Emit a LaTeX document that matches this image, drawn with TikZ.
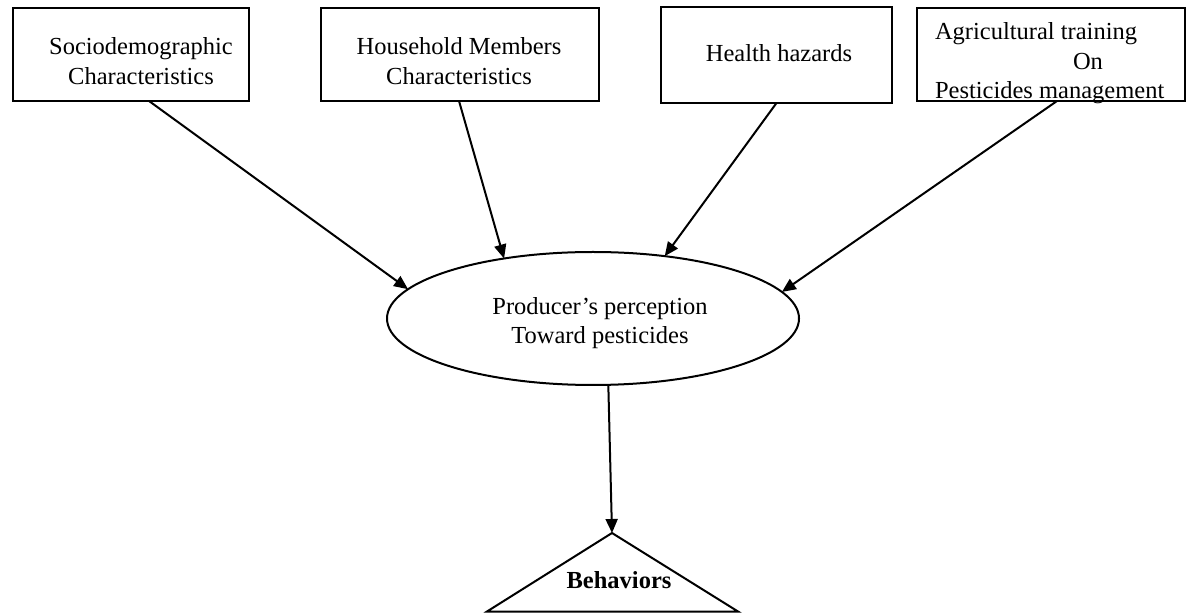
\documentclass[tikz,border=0pt]{standalone}
\usepackage{fontspec}
\setmainfont{Liberation Serif}
\usetikzlibrary{arrows.meta,shapes.geometric}
\begin{document}
\begin{tikzpicture}[x=0.5pt,y=-0.5pt,
  box/.style={draw,line width=1pt,inner sep=0pt,outer sep=0pt},
  txt/.style={font=\fontsize{12.25}{14.875}\selectfont,inner sep=0pt,outer sep=0pt},
  arr/.style={line width=1pt,-{Triangle[length=7pt,width=6pt]}}]
\useasboundingbox (0,0) rectangle (1186,613);
% boxes
\node[box,minimum width=118pt,minimum height=46.5pt] (b1) at (131,54.5) {};
\node[txt,align=center] (t1) at (141,61) {Sociodemographic\\Characteristics};
\node[box,minimum width=139pt,minimum height=46.5pt] (b2) at (460,54.5) {};
\node[txt,align=center] (t2) at (459,61) {Household Members\\Characteristics};
\node[box,minimum width=115.5pt,minimum height=48pt] (b3) at (776.5,55) {};
\node[txt,anchor=base] (t3) at (779,62) {Health hazards};
\node[box,minimum width=134pt,minimum height=46.5pt] (b4) at (1051,54.5) {};
\node[txt,align=left,anchor=north west] (t4) at (935,22.3) {Agricultural training\\\hspace*{69pt}On\\Pesticides management};
% ellipse
\node[draw,ellipse,line width=1pt,inner sep=0pt,outer sep=0pt,minimum width=206pt,minimum height=66.5pt] (el) at (593,318.5) {};
\node[txt,align=center] (te) at (600,323) {Producer’s perception\\Toward pesticides};
% triangle
\coordinate (apex) at (612,533);
\coordinate (bl) at (487,611.5);
\coordinate (br) at (738,611.5);
\draw[line width=1pt] (apex) -- (bl) -- (br) -- cycle;
\node[txt,font=\fontsize{12.25}{14.875}\selectfont\bfseries,anchor=base] (beh) at (619,588) {Behaviors};
% connectors
\draw[arr] ([xshift=9pt]b1.south) -- (el.171.85);
\draw[arr] ([xshift=-0.5pt]b2.south) -- (el.146.5);
\draw[arr] (b3.south) -- (el.41.3);
\draw[arr] ([xshift=3pt]b4.south) -- (el.8.76);
\draw[arr] (el.283.5) -- (apex);
\end{tikzpicture}
\end{document}
